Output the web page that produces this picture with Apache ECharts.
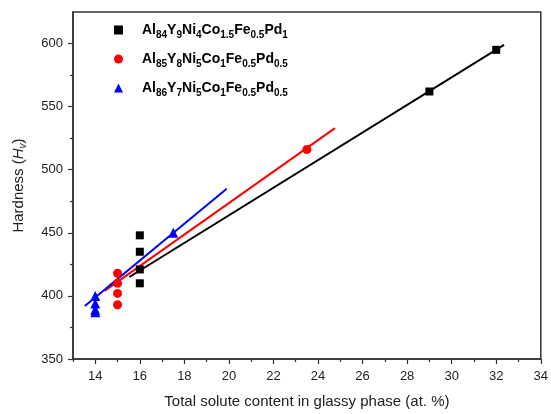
<!DOCTYPE html>
<html><head><meta charset="utf-8">
<script src="https://cdn.jsdelivr.net/npm/echarts@6/dist/echarts.min.js"></script>
<style>html,body{margin:0;padding:0;background:#fff;overflow:hidden}#c{width:551px;height:414px}</style>
</head><body><div id="c"></div>
<script>
// ---- data ----
var seriesNames = ['Al84Y9Ni4Co1.5Fe0.5Pd1', 'Al85Y8Ni5Co1Fe0.5Pd0.5', 'Al86Y7Ni5Co1Fe0.5Pd0.5'];
var legendParts = [
  [['Al','84'],['Y','9'],['Ni','4'],['Co','1.5'],['Fe','0.5'],['Pd','1']],
  [['Al','85'],['Y','8'],['Ni','5'],['Co','1'],['Fe','0.5'],['Pd','0.5']],
  [['Al','86'],['Y','7'],['Ni','5'],['Co','1'],['Fe','0.5'],['Pd','0.5']]
];
var blackPts = [[16,448],[16,435],[16,421],[16,410],[29,562],[32,595]];
var redPts   = [[15,418],[15,410],[15,402],[15,393],[23.5,516]];
var bluePts  = [[14,400],[14,394],[14,389],[14,387],[17.5,450]];
var blackFit = [[15.53,415],[32.35,599]];
var redFit   = [[14.42,404],[24.76,533]];
var blueFit  = [[13.53,392],[19.9,485]];
var xMajorTicks = [14,16,18,20,22,24,26,28,30,32,34];
var xMinorTicks = [13,15,17,19,21,23,25,27,29,31,33];
var yMajorTicks = [350,400,450,500,550,600];
var yMinorTicks = [375,425,475,525,575];
var xName = 'Total solute content in glassy phase (at. %)';

var FONT = 'Liberation Sans, Arial, sans-serif';
function legendText(name){
  var parts = legendParts[seriesNames.indexOf(name)];
  var s = '{g| }';
  parts.forEach(function(p){ s += '{m|' + p[0] + '}{s|' + p[1] + '}'; });
  return s;
}
var axisColor = '#333';
var chart = echarts.init(document.getElementById('c'));
chart.setOption({
  animation: false,
  backgroundColor: '#fff',
  grid: {left: 73, right: 8, top: 12, bottom: 48, show: true, borderColor: axisColor, borderWidth: 1.5},
  legend: {
    orient: 'vertical', left: 114, top: 23, padding: 0,
    itemWidth: 9, itemHeight: 9, itemGap: 12,
    data: [{name: seriesNames[0], icon: 'rect'}, {name: seriesNames[1], icon: 'circle'}, {name: seriesNames[2], icon: 'triangle'}],
    formatter: legendText,
    textStyle: {
      rich: {
        g: {width: 14, fontSize: 14, lineHeight: 20},
        m: {fontSize: 14, fontWeight: 'bold', fontFamily: FONT, color: '#000', lineHeight: 20},
        s: {fontSize: 10, fontWeight: 'bold', fontFamily: FONT, color: '#000', lineHeight: 8, verticalAlign: 'bottom'}
      }
    }
  },
  xAxis: [{
    type: 'value', min: 13, max: 34,
    name: xName, nameLocation: 'middle', nameGap: 35,
    nameTextStyle: {fontSize: 15, fontFamily: FONT, color: '#222'},
    axisLine: {show: true, onZero: false, lineStyle: {color: axisColor, width: 1.5}},
    axisTick: {show: true, customValues: xMajorTicks, length: 5, lineStyle: {color: axisColor, width: 1.2}},
    axisLabel: {customValues: xMajorTicks, margin: 11, fontSize: 13, fontFamily: FONT, color: '#222'},
    splitLine: {show: false}
  }, {
    type: 'value', min: 13, max: 34, position: 'bottom',
    axisLine: {show: false},
    axisTick: {show: true, customValues: xMinorTicks, length: 3, lineStyle: {color: axisColor, width: 1.2}},
    axisLabel: {show: false},
    splitLine: {show: false}
  }],
  yAxis: [{
    type: 'value', min: 350, max: 625,
    name: '{n|Hardness (}{i|H}{sv|v}{n|)}', nameLocation: 'middle', nameGap: 45, nameRotate: 90,
    nameTextStyle: {
      rich: {
        n: {fontSize: 15, fontFamily: FONT, color: '#222', lineHeight: 18},
        i: {fontSize: 15, fontFamily: FONT, fontStyle: 'italic', color: '#222', lineHeight: 18},
        sv: {fontSize: 10, fontFamily: FONT, fontStyle: 'italic', color: '#222', lineHeight: 9, verticalAlign: 'bottom'}
      }
    },
    axisLine: {show: true, onZero: false, lineStyle: {color: axisColor, width: 1.5}},
    axisTick: {show: true, customValues: yMajorTicks, length: 5, lineStyle: {color: axisColor, width: 1.2}},
    axisLabel: {customValues: yMajorTicks, margin: 10, fontSize: 13, fontFamily: FONT, color: '#222'},
    splitLine: {show: false}
  }, {
    type: 'value', min: 350, max: 625, position: 'left',
    axisLine: {show: false},
    axisTick: {show: true, customValues: yMinorTicks, length: 3, lineStyle: {color: axisColor, width: 1.2}},
    axisLabel: {show: false},
    splitLine: {show: false}
  }],
  series: [
    {name: seriesNames[0] + ' fit', type: 'line', data: blackFit, showSymbol: false, lineStyle: {color: '#000', width: 2}, itemStyle: {color: '#000'}, z: 2},
    {name: seriesNames[1] + ' fit', type: 'line', data: redFit, showSymbol: false, lineStyle: {color: '#ff0000', width: 2}, itemStyle: {color: '#ff0000'}, z: 2},
    {name: seriesNames[2] + ' fit', type: 'line', data: blueFit, showSymbol: false, lineStyle: {color: '#0000ff', width: 2}, itemStyle: {color: '#0000ff'}, z: 2},
    {name: seriesNames[0], type: 'scatter', data: blackPts, symbol: 'rect', symbolSize: 8, itemStyle: {color: '#000', opacity: 1}, z: 3},
    {name: seriesNames[1], type: 'scatter', data: redPts, symbol: 'circle', symbolSize: 9, itemStyle: {color: '#ff0000', opacity: 1}, z: 3},
    {name: seriesNames[2], type: 'scatter', data: bluePts, symbol: 'triangle', symbolSize: 10, itemStyle: {color: '#0000ff', opacity: 1}, z: 3}
  ]
});
</script></body></html>
